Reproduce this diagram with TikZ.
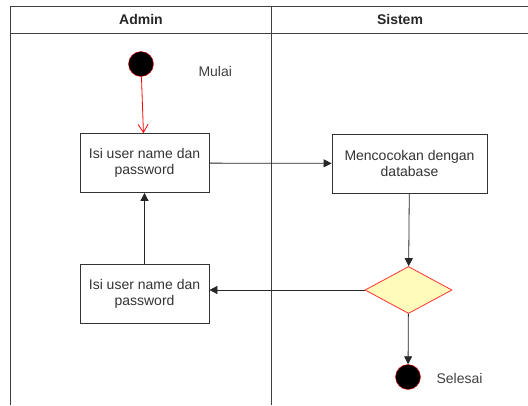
\documentclass[tikz,border=0pt]{standalone}
\usepackage{fontspec}
\setmainfont{Liberation Sans}
\usetikzlibrary{arrows.meta,shapes.geometric}

\tikzset{
    act/.style={draw=black!80,thick,minimum width=129pt,minimum height=59pt,align=center,inner sep=2pt,text=black!80},
    dot/.style={circle,draw=red,fill=black,minimum size=25pt,inner sep=0pt},
    flow/.style={-{Triangle[length=8pt,width=8pt]},thick,black!85},
}

\begin{document}
\begin{tikzpicture}[x=1pt,y=-1pt,font=\fontsize{14}{16}\selectfont]
            \useasboundingbox (0,0) rectangle (528,405);
            \draw[thick,black!75] (528,6) -- (10,6) -- (10,405);
            \draw[thick,black!75] (10,33) -- (528,33);
            \draw[thick,black!75] (271,6) -- (271,405);
            \node[font=\fontsize{14}{16}\selectfont\bfseries,text=black!85] (admin) at (141,19.5) {Admin};
            \node[font=\fontsize{14}{16}\selectfont\bfseries,text=black!85] (sistem) at (400,19.5) {Sistem};

            \node[dot] (mulai) at (141,64) {};
            \node[text=black!75,right] (lmulai) at (195,71) {Mulai};
            \node[act] (isi) at (144.5,163) {Isi user name dan\\password};
            \node[act,minimum width=155pt] (cocok) at (409.5,163.5) {Mencocokan dengan\\database};
            \node[diamond,draw=red!80,fill=yellow!27,thick,minimum width=87pt,minimum height=47pt,aspect=1.85,inner sep=0pt] (cek) at (408.5,290) {};
            \node[act] (ulang) at (144.5,293.5) {Isi user name dan\\password};
            \node[dot] (selesai) at (408,377) {};
            \node[text=black!75,right] (lselesai) at (433,378) {Selesai};

            \draw[-{Straight Barb[length=8pt,width=10pt]},red,thick] (mulai) -- (isi);
            \draw[flow] (isi) -- (cocok);
            \draw[flow] (cocok) -- (cek);
            \draw[flow] (cek.west) -- (cek.west -| ulang.east);
            \draw[flow] (ulang) -- (isi);
            \draw[flow] (cek) -- (selesai);
        \end{tikzpicture}
\end{document}
